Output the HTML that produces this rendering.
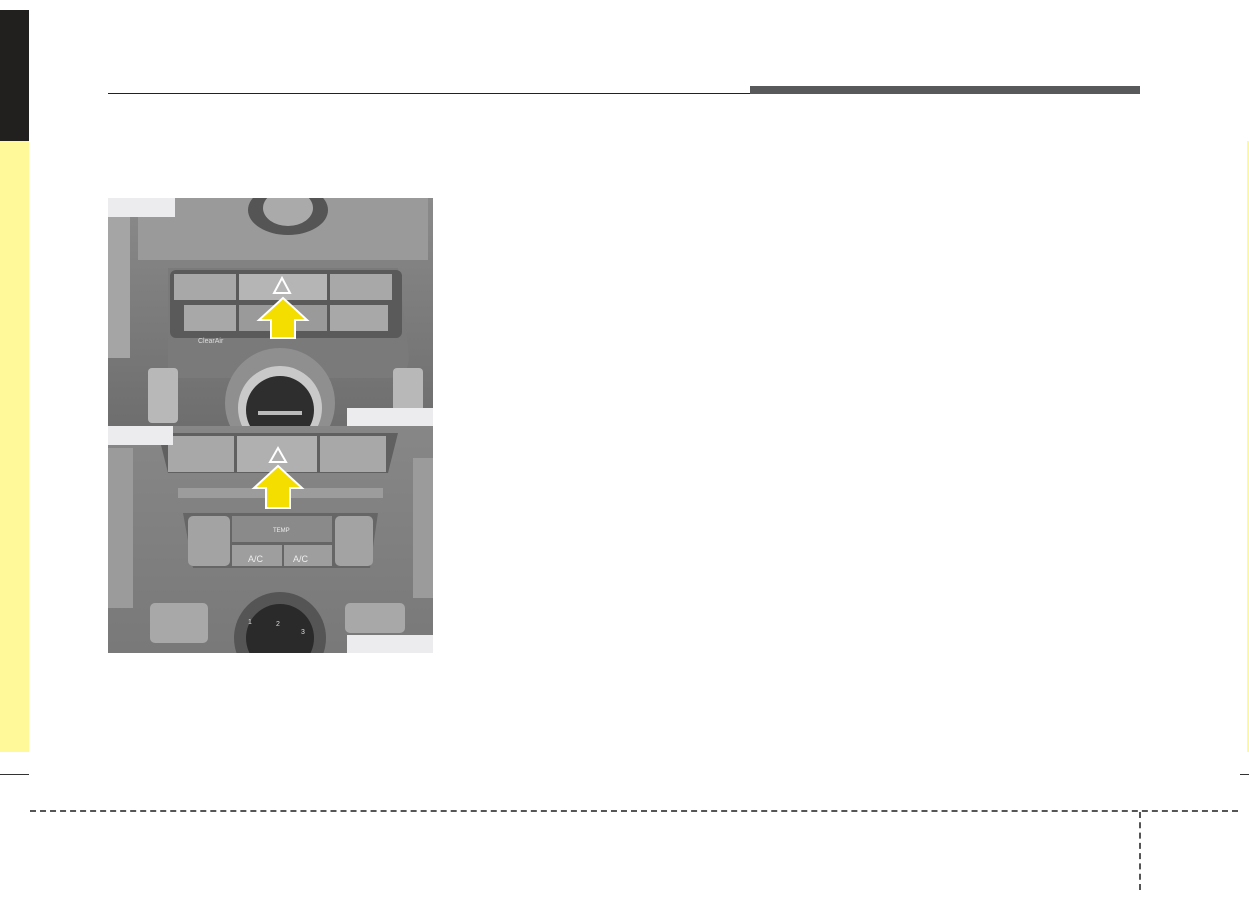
<!DOCTYPE html>
<html><head><style>
html,body{margin:0;padding:0;background:#fff;width:1249px;height:897px;overflow:hidden;position:relative;font-family:"Liberation Sans",sans-serif}
.a{position:absolute}
</style></head><body>
<div class="a" style="left:0;top:10px;width:29px;height:131px;background:#221f1f"></div>
<div class="a" style="left:0;top:141px;width:29px;height:611px;background:#fff99a"></div>
<div class="a" style="left:1247px;top:141px;width:2px;height:611px;background:#fff99a"></div>
<div class="a" style="left:108px;top:93px;width:1032px;height:1px;background:#222"></div>
<div class="a" style="left:750px;top:86px;width:390px;height:8px;background:#58595b"></div>
<div class="a" style="left:0;top:774px;width:29px;height:1px;background:#333"></div>
<div class="a" style="left:1240px;top:774px;width:9px;height:1px;background:#333"></div>
<div class="a" style="left:30px;top:810px;width:1208px;height:0;border-top:2px dashed #555"></div>
<div class="a" style="left:1139px;top:812px;width:0;height:78px;border-left:2px dashed #555"></div>

<svg class="a" style="left:108px;top:198px" width="325" height="455" viewBox="0 0 325 455">
<defs><linearGradient id="g" x1="0" y1="0" x2="0" y2="1"><stop offset="0" stop-color="#8a8a8a"/><stop offset="1" stop-color="#6e6e6e"/></linearGradient></defs>
<!-- photo 1 -->
<rect x="0" y="0" width="325" height="228" fill="url(#g)"/>
<rect x="30" y="0" width="290" height="62" fill="#9a9a9a"/>
<ellipse cx="180" cy="12" rx="40" ry="25" fill="#555"/>
<ellipse cx="180" cy="10" rx="25" ry="18" fill="#aaa"/>
<rect x="0" y="10" width="22" height="150" fill="#a5a5a5"/>
<path d="M60 70 L290 70 L300 150 Q305 180 280 180 L60 180 Z" fill="#7a7a7a"/>
<rect x="62" y="72" width="232" height="68" rx="6" fill="#5a5a5a"/>
<rect x="66" y="76" width="62" height="26" fill="#a8a8a8"/><rect x="131" y="76" width="88" height="26" fill="#b5b5b5"/><rect x="222" y="76" width="62" height="26" fill="#a8a8a8"/>
<rect x="76" y="107" width="52" height="26" fill="#a8a8a8"/><rect x="131" y="107" width="88" height="26" fill="#9a9a9a"/><rect x="222" y="107" width="58" height="26" fill="#a8a8a8"/>
<rect x="40" y="170" width="30" height="55" rx="4" fill="#b8b8b8"/><rect x="285" y="170" width="30" height="55" rx="4" fill="#b8b8b8"/>
<circle cx="172" cy="205" r="55" fill="#8f8f8f"/><circle cx="172" cy="210" r="42" fill="#c9c9c9"/><circle cx="172" cy="212" r="34" fill="#2e2e2e"/>
<rect x="150" y="213" width="44" height="4" fill="#bbb"/>
<text x="90" y="145" font-size="7" fill="#ddd">ClearAir</text>
<polygon points="174,80 182,95 166,95" fill="none" stroke="#fff" stroke-width="2"/>
<polygon points="175,100 199,122 187,122 187,140 163,140 163,122 151,122" fill="#f3de00" stroke="#fff" stroke-width="2"/>
<rect x="0" y="0" width="67" height="19" fill="#ececee"/>
<rect x="239" y="210" width="86" height="18" fill="#ececee"/>
<!-- photo 2 -->
<rect x="0" y="228" width="325" height="227" fill="url(#g)"/>
<rect x="0" y="228" width="325" height="227" fill="#848484" opacity="0.5"/>
<path d="M50 235 L290 235 L280 275 L60 275 Z" fill="#606060"/>
<rect x="60" y="238" width="66" height="36" fill="#a8a8a8"/><rect x="129" y="238" width="80" height="36" fill="#b0b0b0"/><rect x="212" y="238" width="66" height="36" fill="#a8a8a8"/>
<rect x="70" y="290" width="205" height="10" fill="#9c9c9c"/>
<path d="M75 315 L270 315 L262 370 L85 370 Z" fill="#666"/>
<rect x="80" y="318" width="42" height="50" rx="5" fill="#a3a3a3"/><rect x="124" y="318" width="100" height="26" fill="#8a8a8a"/>
<rect x="124" y="347" width="50" height="21" fill="#9e9e9e"/><rect x="176" y="347" width="48" height="21" fill="#9e9e9e"/>
<rect x="227" y="318" width="38" height="50" rx="5" fill="#a3a3a3"/>
<text x="140" y="364" font-size="9" fill="#eee">A/C</text><text x="185" y="364" font-size="9" fill="#eee">A/C</text><text x="165" y="334" font-size="6" fill="#eee">TEMP</text>
<rect x="0" y="250" width="25" height="160" fill="#9b9b9b"/><rect x="305" y="260" width="20" height="140" fill="#9b9b9b"/>
<rect x="42" y="405" width="58" height="40" rx="5" fill="#a8a8a8"/><rect x="237" y="405" width="60" height="30" rx="5" fill="#a8a8a8"/>
<circle cx="172" cy="440" r="46" fill="#555"/><circle cx="172" cy="440" r="34" fill="#2a2a2a"/>
<text x="140" y="426" font-size="7" fill="#ddd">1</text><text x="168" y="428" font-size="7" fill="#ddd">2</text><text x="193" y="436" font-size="7" fill="#ddd">3</text>
<polygon points="170,250 178,264 162,264" fill="none" stroke="#fff" stroke-width="2"/>
<polygon points="170,268 194,290 182,290 182,310 158,310 158,290 146,290" fill="#f3de00" stroke="#fff" stroke-width="2"/>
<rect x="0" y="228" width="65" height="19" fill="#ececee"/>
<rect x="239" y="437" width="86" height="18" fill="#ececee"/>
</svg>
</body></html>
